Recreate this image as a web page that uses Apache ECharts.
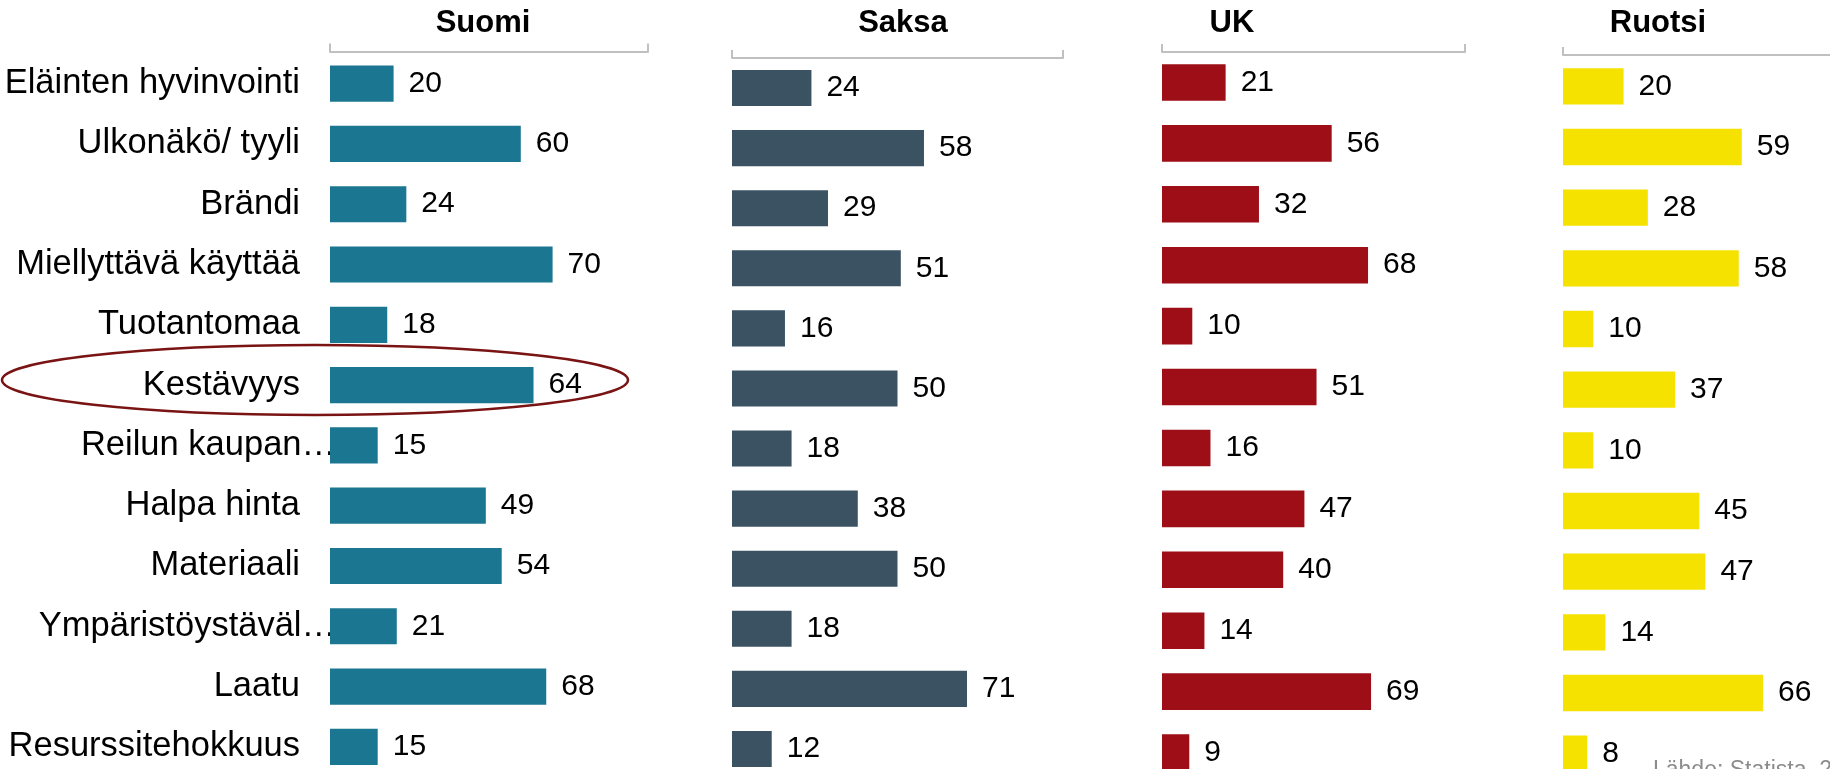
<!DOCTYPE html>
<html>
<head>
<meta charset="utf-8">
<script src="https://cdn.jsdelivr.net/npm/echarts@6.0.0/dist/echarts.min.js"></script>
<style>html,body{margin:0;padding:0;background:#fff}#c{width:1830px;height:769px}</style>
</head>
<body>
<div id="c"></div>
<script>
// ---- data ----
const categories = ['Eläinten hyvinvointi', 'Ulkonäkö/ tyyli', 'Brändi', 'Miellyttävä käyttää', 'Tuotantomaa', 'Kestävyys', 'Reilun kaupan…', 'Halpa hinta', 'Materiaali', 'Ympäristöystäväl…', 'Laatu', 'Resurssitehokkuus'];
const countries = ['Suomi', 'Saksa', 'UK', 'Ruotsi'];
const suomi = [20, 60, 24, 70, 18, 64, 15, 49, 54, 21, 68, 15];
const saksa = [24, 58, 29, 51, 16, 50, 18, 38, 50, 18, 71, 12];
const uk = [21, 56, 32, 68, 10, 51, 16, 47, 40, 14, 69, 9];
const ruotsi = [20, 59, 28, 58, 10, 37, 10, 45, 47, 14, 66, 8];
const highlighted = 'Kestävyys';
const sourceText = 'Lähde: Statista, 2020';
const axisMax = 100;

// ---- layout / style ----
const FONT = '"Liberation Sans", Arial, Helvetica, sans-serif';
const seriesValues = [suomi, saksa, uk, ruotsi];
const panels = [
  { left: 330,  top: 53.5, width: 318, height: 723.5, titleX: 483,  color: '#1b7691' },
  { left: 732,  top: 58,   width: 331, height: 721,   titleX: 903,  color: '#3a5262' },
  { left: 1162, top: 52,   width: 303, height: 731,   titleX: 1232, color: '#9d0e16' },
  { left: 1563, top: 56,   width: 303, height: 728,   titleX: 1658, color: '#f6e200' }
];
const axisOffset = [2, 0, 0, 1];
const isCut = v => v.endsWith('…');

const grid = panels.map(p => ({ left: p.left, top: p.top, width: p.width, height: p.height, containLabel: false, outerBoundsMode: 'none' }));
grid.push(Object.assign({}, grid[0]));

const xAxis = panels.map((p, i) => ({
  gridIndex: i, type: 'value', min: 0, max: axisMax, interval: axisMax, position: 'top', offset: axisOffset[i],
  axisLine: { show: true, lineStyle: { color: '#c0c0c0', width: 2 } },
  axisTick: { show: true, length: 8, lineStyle: { color: '#c0c0c0', width: 2 } },
  axisLabel: { show: false }, splitLine: { show: false }
}));
xAxis.push({ gridIndex: 4, type: 'value', min: 0, max: axisMax, show: false });

const yAxis = panels.map((p, i) => ({
  gridIndex: i, type: 'category', inverse: true, data: categories,
  axisLine: { show: false }, axisTick: { show: false }, splitLine: { show: false },
  axisLabel: { show: i === 0, interval: 0, margin: 30, fontSize: 34.5, color: '#000', fontFamily: FONT,
               formatter: v => isCut(v) ? '' : v }
}));
yAxis.push({
  gridIndex: 4, type: 'category', inverse: true, data: categories,
  axisLine: { show: false }, axisTick: { show: false }, splitLine: { show: false },
  axisLabel: { interval: 0, margin: -6, fontSize: 34.5, color: '#000', fontFamily: FONT,
               formatter: v => isCut(v) ? v : '' }
});

const series = panels.map((p, i) => ({
  type: 'bar', name: countries[i], xAxisIndex: i, yAxisIndex: i, data: seriesValues[i],
  barCategoryGap: '40%', itemStyle: { color: p.color }, z: 3,
  label: { show: true, position: 'right', distance: 15, fontSize: 30, color: '#000', fontFamily: FONT }
}));

const chart = echarts.init(document.getElementById('c'));
chart.setOption({ animation: false, grid, xAxis, yAxis, series });

const titles = panels.map((p, i) => ({
  type: 'text', id: 't' + i, x: p.titleX, y: 23, z: 50,
  style: { text: countries[i], font: 'bold 31px ' + FONT, fill: '#000', textAlign: 'center', textVerticalAlign: 'middle' }
}));
const cy = chart.convertToPixel({ yAxisIndex: 0 }, highlighted);
chart.setOption({
  graphic: titles.concat([
    { type: 'text', id: 'src', x: 1653, y: 759, z: 50,
      style: { text: sourceText, font: '23px ' + FONT, fill: '#8c8c8c', textAlign: 'left', textVerticalAlign: 'top' } },
    { type: 'ellipse', id: 'hl', z: 100, shape: { cx: 315, cy: cy - 5, rx: 313, ry: 35 },
      style: { fill: 'none', stroke: '#7a1414', lineWidth: 2.5 } }
  ])
});
</script>
</body>
</html>
